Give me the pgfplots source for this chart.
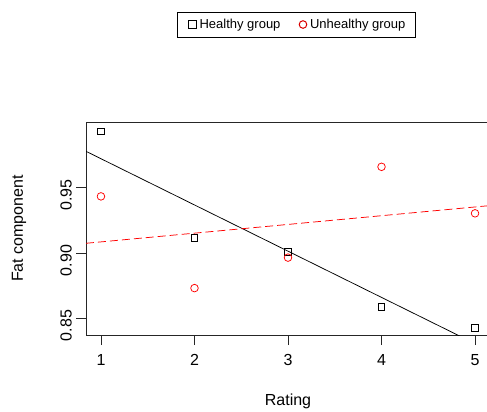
\documentclass[border=0pt]{standalone}
\usepackage{fontspec}
\setmainfont{Liberation Sans}
\usepackage{pgfplots}
\pgfplotsset{compat=1.18}
\pgfplotsset{
  legsq/.code={\pgfplotsset{legend image code/.code={%
    \path[draw=none, fill=none] (0pt,-4pt) rectangle (12pt,4pt);
    \draw[##1, mark size=4.3pt, mark options={line width=1.1pt}] plot coordinates {(7pt,0pt)};}}},
  legci/.code={\pgfplotsset{legend image code/.code={%
    \path[draw=none, fill=none] (0pt,-4pt) rectangle (12pt,4pt);
    \draw[##1, mark options={line width=1pt, draw=red!85!black}] plot coordinates {(7pt,0pt)};}}},
}
\begin{document}
\fontsize{12}{14}\selectfont
\begin{tikzpicture}
\path[use as bounding box] (0pt,0pt) rectangle (487pt,-412pt);
\begin{axis}[
  at={(86pt,-335pt)}, anchor=south west,
  scale only axis, width=404pt, height=213pt,
  xmin=0.84, xmax=5.16, ymin=0.837, ymax=1.0005,
  xtick={1,2,3,4,5}, ytick={0.85,0.90,0.95},
  yticklabels={0.85,0.90,0.95},
  tick align=outside, tick pos=left,
  major tick length=10pt,
  axis line style={line width=0.75pt, black!85},
  every tick/.style={line width=0.75pt, black!85},
  /pgf/number format/assume math mode=true,
  tick label style={font=\fontsize{16}{19}\selectfont},
  yticklabel style={rotate=90, anchor=south, xshift=-7.5pt},
  xticklabel style={anchor=north, yshift=-5pt},
  xlabel={Rating}, ylabel={Fat component},
  label style={font=\fontsize{16}{19}\selectfont},
  xlabel style={at={(axis description cs:0.5,-0.31)}, anchor=center},
  ylabel style={at={(axis description cs:-0.166,0.5)}, anchor=center},
  legend columns=2,
  legend style={at={(axis description cs:0.521,1.4577)}, anchor=center,
    draw=black, line width=0.75pt, font=\fontsize{13}{15}\selectfont,
    inner xsep=8pt, inner ysep=5pt,
    /tikz/every even column/.append style={column sep=13.5pt}},
  legend cell align=left,
]
\addplot[only marks, mark=square, mark size=3.3pt, black, mark options={line width=0.75pt}, legsq]
  coordinates {(1,0.9932) (2,0.9117) (3,0.9010) (4,0.8587) (5,0.8423)};
\addlegendentry{Healthy group}
\addplot[only marks, mark=o, mark size=3.8pt, red, mark options={line width=0.75pt}, legci]
  coordinates {(1,0.9434) (2,0.8730) (3,0.8964) (4,0.9661) (5,0.9304)};
\addlegendentry{Unhealthy group}
\addplot[black, line width=0.75pt, forget plot] coordinates {(0.84,0.9780) (5.16,0.8247)};
\addplot[red, line width=0.75pt, dash pattern=on 8pt off 4pt, forget plot] coordinates {(0.84,0.9074) (5.16,0.93635)};
\end{axis}
\end{tikzpicture}
\end{document}
